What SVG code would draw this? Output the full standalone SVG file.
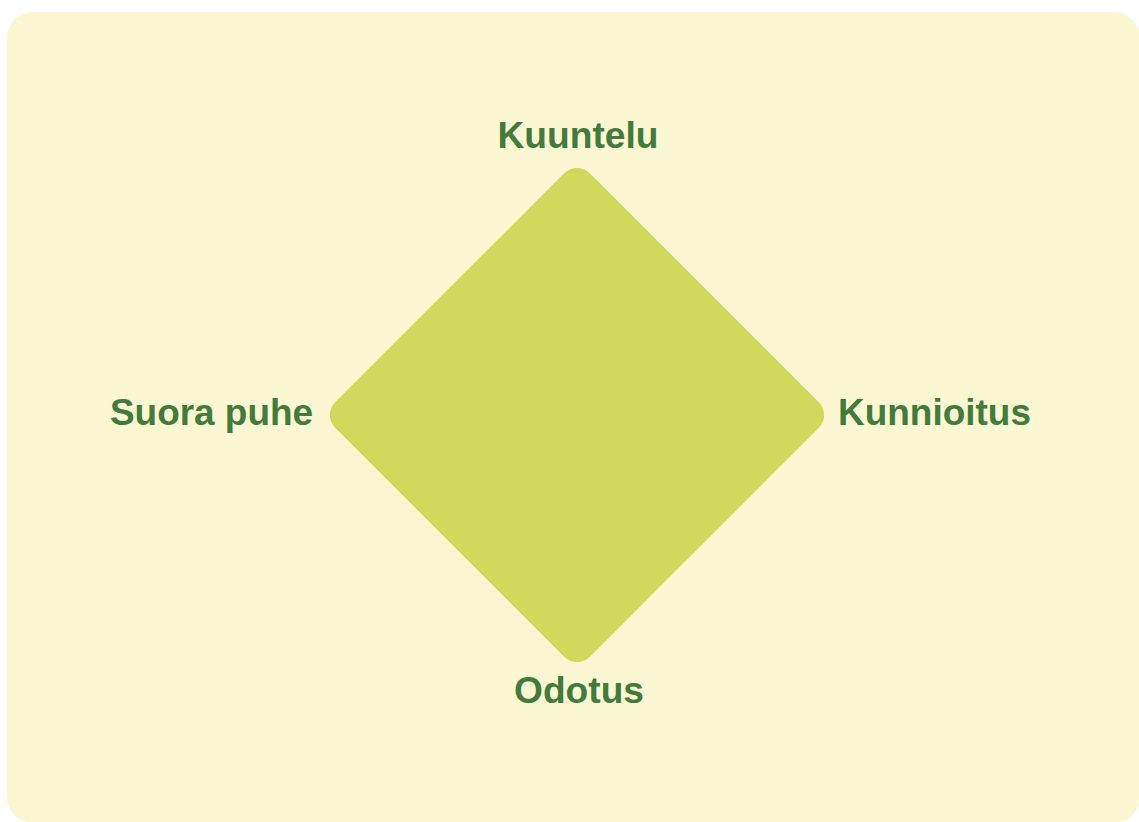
<svg xmlns="http://www.w3.org/2000/svg" width="1139" height="822" viewBox="0 0 1139 822">
<style>
.lbl{font-family:"Liberation Sans",Arial,sans-serif;font-weight:bold;font-size:36px;fill:#437B3C}
</style>
<rect x="0" y="0" width="1139" height="822" fill="#FFFFFF"/>
<rect id="panel" x="7" y="12" width="1133" height="811" rx="26" fill="#FBF7D2"/>
<g id="diamond">
<rect x="-180" y="-180" width="360" height="360" rx="18" fill="#CFD95B" transform="translate(577,415) rotate(45)"/>
</g>
<g id="connectors"></g>
<g id="top"><text class="lbl" x="578" y="148" text-anchor="middle" textLength="161" lengthAdjust="spacingAndGlyphs">Kuuntelu</text></g>
<g id="left"><text class="lbl" x="110" y="425" textLength="203" lengthAdjust="spacingAndGlyphs">Suora puhe</text></g>
<g id="right"><text class="lbl" x="838" y="425" textLength="193" lengthAdjust="spacingAndGlyphs">Kunnioitus</text></g>
<g id="bottom"><text class="lbl" x="579" y="703" text-anchor="middle" textLength="130" lengthAdjust="spacingAndGlyphs">Odotus</text></g>
</svg>
